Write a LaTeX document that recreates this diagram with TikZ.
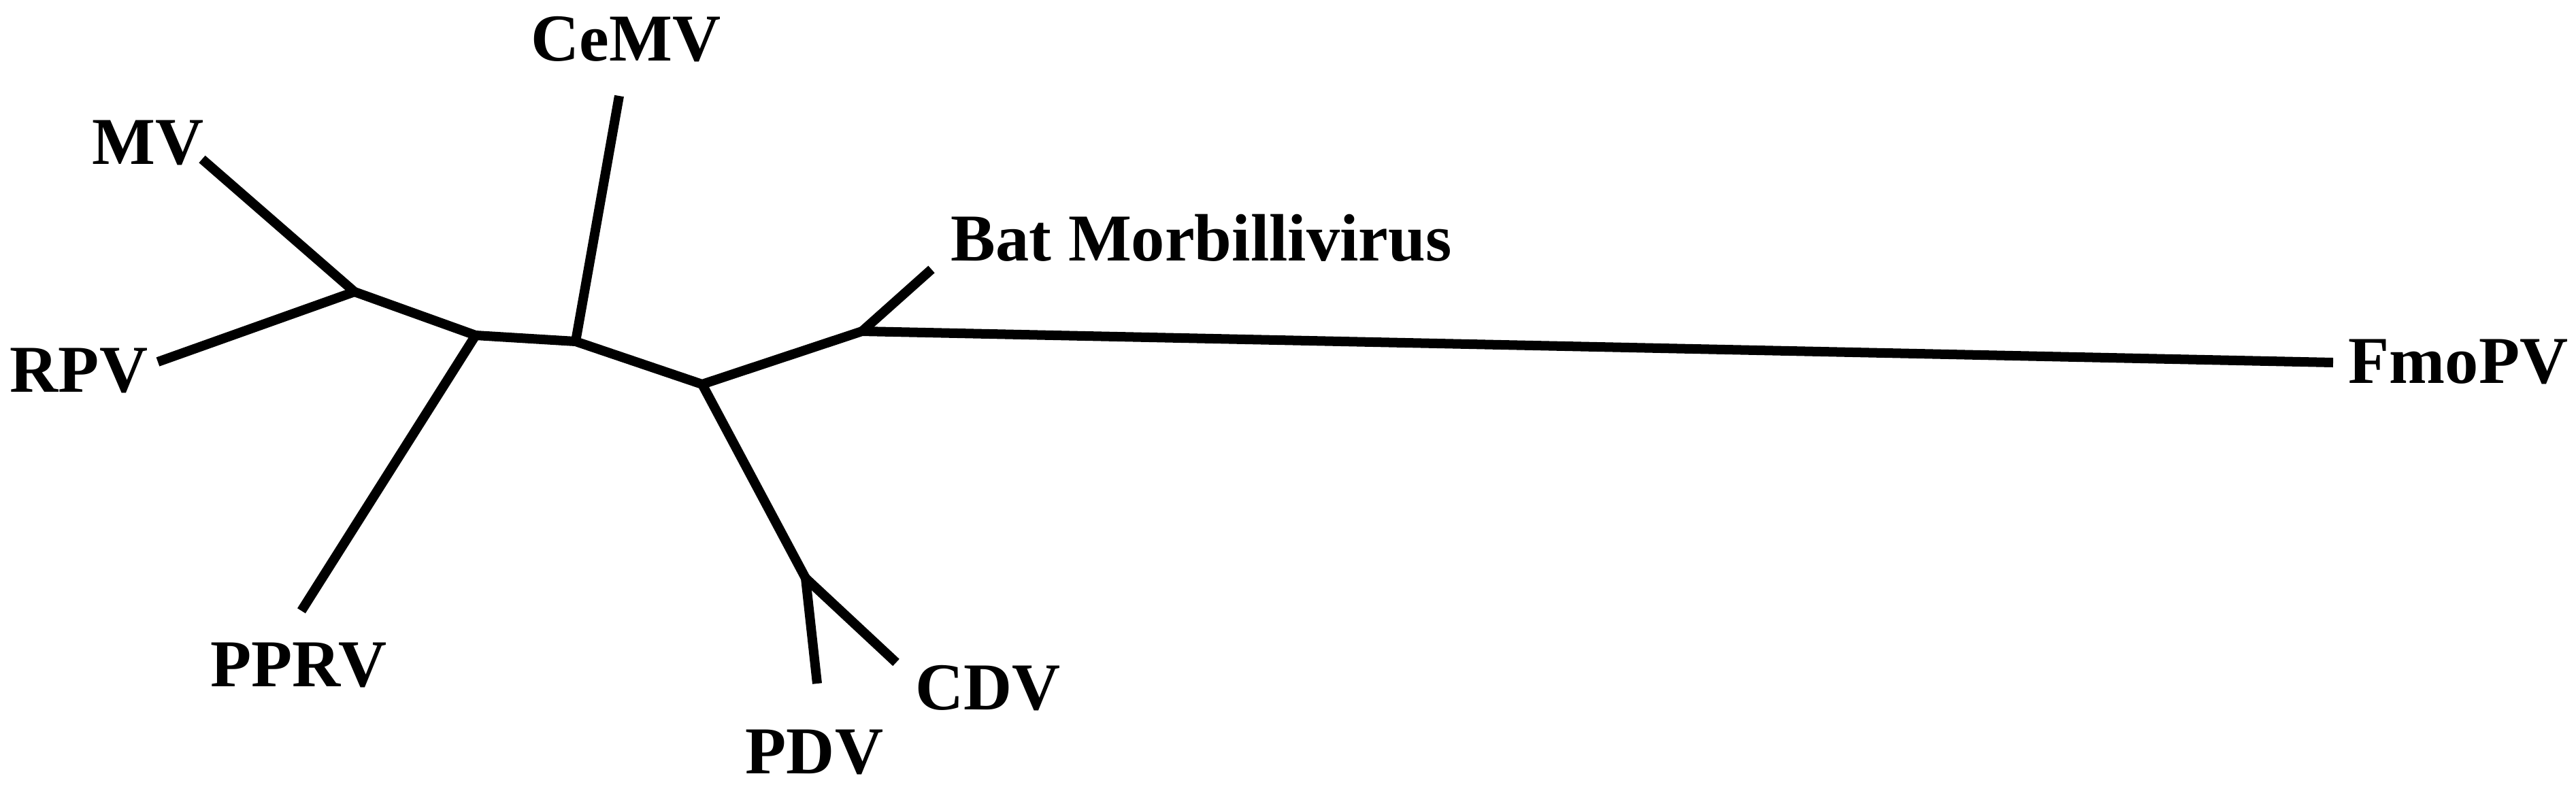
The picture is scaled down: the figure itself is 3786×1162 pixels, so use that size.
\documentclass[tikz,border=0pt]{standalone}
\usepackage{fontspec}
\setmainfont{Liberation Serif}
\begin{document}
\begin{tikzpicture}[x=0.01cm, y=-0.01cm,
    branch/.style={line width=0.14cm, line join=miter},
    taxon/.style={font=\fontsize{28}{30}\selectfont\bfseries, inner sep=0pt}]
            \useasboundingbox (0,0) rectangle (3786,1162);
            % inner nodes of the tree
            \coordinate (nA) at (521,429);
            \coordinate (nB) at (699,493);
            \coordinate (nC) at (846,502);
            \coordinate (nD) at (1032,565);
            \coordinate (nE) at (1267,487);
            \coordinate (nF) at (1184,850);
            % tips
            \coordinate (tMV) at (297,234);
            \coordinate (tRPV) at (232,532);
            \coordinate (tPPRV) at (443,898);
            \coordinate (tCeMV) at (910,141);
            \coordinate (tBat) at (1369,396);
            \coordinate (tFmo) at (3429,533);
            \coordinate (tPDV) at (1201,1005);
            \coordinate (tCDV) at (1317,974);
            % branches
            \draw[branch] (tMV) -- (nA) -- (nB) -- (nC) -- (nD) -- (nE) -- (tFmo);
            \draw[branch] (tRPV) -- (nA);
            \draw[branch] (tPPRV) -- (nB);
            \draw[branch] (tCeMV) -- (nC);
            \draw[branch] (tBat) -- (nE);
            \draw[branch] (nD) -- (nF) -- (tPDV);
            \draw[branch] (nF) -- (tCDV);
            % labels
            \node (lMV) at (218,210) [taxon] {MV};
            \node (lRPV) at (116,545) [taxon] {RPV};
            \node (lPPRV) at (439,978) [taxon] {PPRV};
            \node (lCeMV) at (920,58) [taxon] {CeMV};
            \node (lBat) at (1397,350) [taxon, anchor=west] {Bat Morbillivirus};
            \node (lFmo) at (3613,532) [taxon] {FmoPV};
            \node (lCDV) at (1452,1012) [taxon] {CDV};
            \node (lPDV) at (1197,1106) [taxon] {PDV};
        \end{tikzpicture}
\end{document}
